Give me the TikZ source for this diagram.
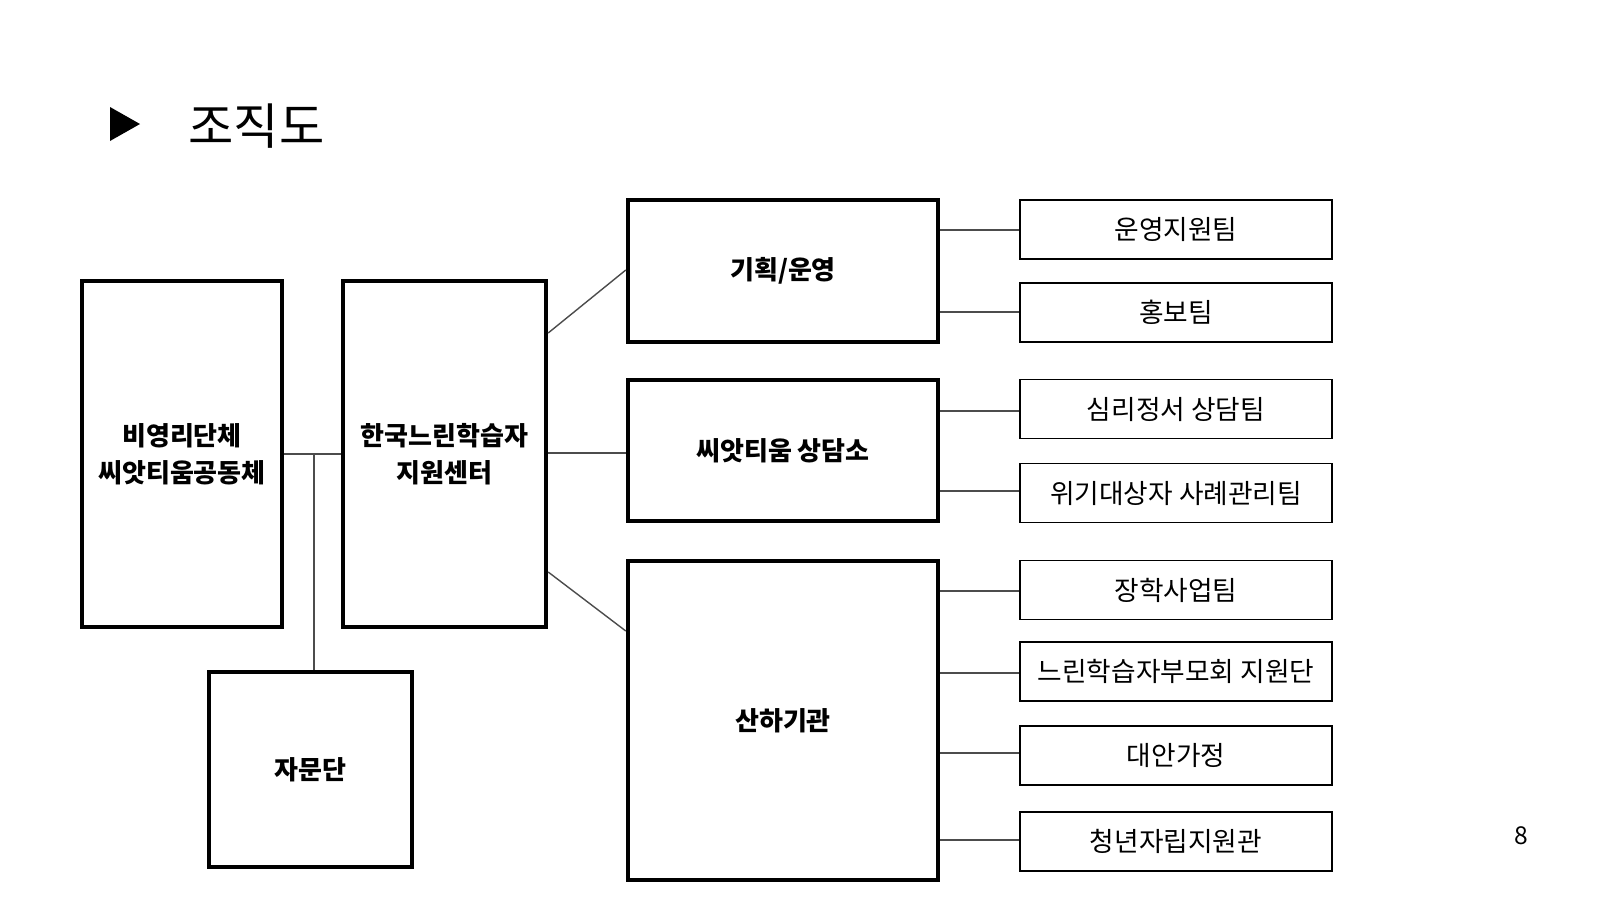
\documentclass[tikz,border=0pt]{standalone}
\usepackage{fontspec}
\setmainfont{Noto Sans CJK KR}
\usetikzlibrary{positioning}
\tikzset{
  bigbox/.style={draw,line width=1.2pt,align=center,font=\bfseries\fontsize{7.4}{10.5}\selectfont,inner sep=0pt},
  teambox/.style={draw,line width=0.5pt,minimum width=3.12cm,minimum height=0.59cm,font=\fontsize{7.6}{10}\selectfont,inner sep=0pt},
  link/.style={draw=black!70,line width=0.4pt}
}
\begin{document}
\begin{tikzpicture}[x=0.01cm,y=-0.01cm]
    \useasboundingbox (0,0) rectangle (1600,900);

    %%%% Title %%%%%%%%%%%%%%%%%%%%%%%%%%%%%%%%%%%%%%%%%%%%%%%%%%%%%%%%%
    \fill (110,107) -- (140,124) -- (110,141) -- cycle;
    \node[font=\fontsize{14}{17}\selectfont,anchor=west] (title) at (176,126) {조직도};
    \node[font=\fontsize{7}{9}\selectfont] (page) at (1521,836) {8};

    %%%% Left side %%%%%%%%%%%%%%%%%%%%%%%%%%%%%%%%%%%%%%%%%%%%%%%%%%%%%
    \node[bigbox,minimum width=2cm,minimum height=3.46cm] (corp) at (182,454) {비영리단체\\씨앗티움공동체};
    \node[bigbox,minimum width=2.03cm,minimum height=3.46cm] (center) at (444.5,454) {한국느린학습자\\지원센터};
    \node[bigbox,minimum width=2.03cm,minimum height=1.95cm] (advice) at (310.5,769.5) {자문단};

    %%%% Middle %%%%%%%%%%%%%%%%%%%%%%%%%%%%%%%%%%%%%%%%%%%%%%%%%%%%%%%%%
    \node[bigbox,minimum width=3.1cm,minimum height=1.42cm] (plan) at (783,271) {기획/운영};
    \node[bigbox,minimum width=3.1cm,minimum height=1.41cm] (counsel) at (783,450.5) {씨앗티움 상담소};
    \node[bigbox,minimum width=3.1cm,minimum height=3.19cm] (affil) at (783,720.5) {산하기관};

    %%%% Right %%%%%%%%%%%%%%%%%%%%%%%%%%%%%%%%%%%%%%%%%%%%%%%%%%%%%%%%%%
    \node[teambox] (t1) at (1176,229.5) {운영지원팀};
    \node[teambox] (t2) at (1176,312.5) {홍보팀};
    \node[teambox] (t3) at (1176,409) {심리정서 상담팀};
    \node[teambox] (t4) at (1176,493) {위기대상자 사례관리팀};
    \node[teambox] (t5) at (1176,590) {장학사업팀};
    \node[teambox] (t6) at (1176,671.5) {느린학습자부모회 지원단};
    \node[teambox] (t7) at (1176,755.5) {대안가정};
    \node[teambox] (t8) at (1176,841.5) {청년자립지원관};

    %%%% Connectors %%%%%%%%%%%%%%%%%%%%%%%%%%%%%%%%%%%%%%%%%%%%%%%%%%%%
    \draw[link] (corp.east |- 0,454) -- (center.west |- 0,454);
    \draw[link] (314,454) -- (advice.north -| 314,0);
    \draw[link] (center.east |- 0,333) -- (plan.west |- 0,270);
    \draw[link] (center.east |- 0,453) -- (counsel.west |- 0,453);
    \draw[link] (center.east |- 0,572) -- (affil.west |- 0,631);
    \foreach \t/\m/\y in {t1/plan/230,t2/plan/312,t3/counsel/411,t4/counsel/491,
                          t5/affil/591,t6/affil/673,t7/affil/753,t8/affil/840}
      \draw[link] (\m.east |- 0,\y) -- (\t.west |- 0,\y);
\end{tikzpicture}
\end{document}
